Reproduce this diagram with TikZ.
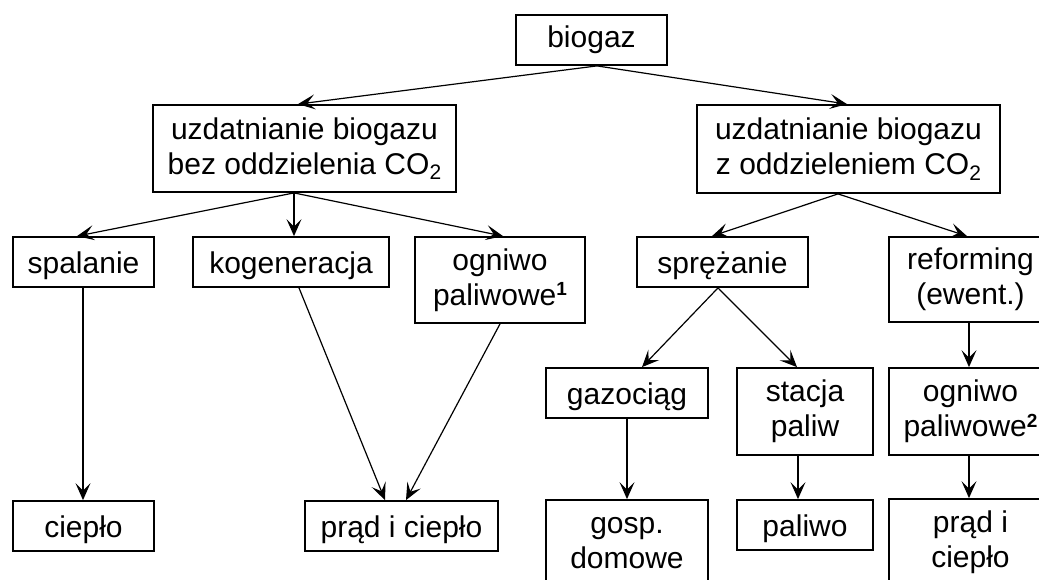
\documentclass[tikz,border=0pt]{standalone}
\usepackage{fontspec}
\setmainfont{Liberation Sans}
\usetikzlibrary{arrows.meta}
\newcommand{\cotwo}{CO\raisebox{-0.35ex}{\fontsize{21}{21}\selectfont 2}}
\newcommand{\supnum}[1]{\raisebox{0.6ex}{\fontsize{19}{19}\selectfont\bfseries #1}}
\begin{document}
\begin{tikzpicture}[x=1pt,y=-1pt,
  box/.style={draw, line width=1.8pt, inner sep=0pt, align=center,
    font=\fontsize{30}{35}\selectfont},
  oneline/.style={text height=22pt, text depth=0pt},
  arr/.style={line width=1.2pt, -{Stealth[length=17pt,width=15pt,inset=7.5pt]}}]
\useasboundingbox (0,0) rectangle (1039,579);
\clip (0,0) rectangle (1039,579);
% boxes
\node[box, minimum width=151pt, minimum height=50pt] (biogaz) at (591.5,40) {biogaz};
\node[box, minimum width=303pt, minimum height=87pt] (uzL) at (304.5,148.5) {uzdatnianie biogazu\\bez oddzielenia \cotwo};
\node[box, minimum width=303pt, minimum height=88pt] (uzR) at (848.5,149) {uzdatnianie biogazu\\z oddzieleniem \cotwo};
\node[box, oneline, minimum width=141pt, minimum height=50pt] (spal) at (83.5,262) {spalanie};
\node[box, oneline, minimum width=196pt, minimum height=50pt] (kog) at (291,262) {kogeneracja};
\node[box, minimum width=170pt, minimum height=86pt] (ogn1) at (500,280) {ogniwo\\paliwowe\supnum{1}};
\node[box, oneline, minimum width=171pt, minimum height=50pt] (spr) at (722.5,262) {sprężanie};
\node[box, minimum width=163pt, minimum height=85pt] (ref) at (970.5,279.5) {reforming\\(ewent.)};
\node[box, oneline, minimum width=162pt, minimum height=50pt] (gaz) at (627,393) {gazociąg};
\node[box, minimum width=136pt, minimum height=87pt] (stac) at (805,411.5) {stacja\\paliw};
\node[box, minimum width=163pt, minimum height=87pt] (ogn2) at (970.5,411.5) {ogniwo\\paliwowe\supnum{2}};
\node[box, oneline, minimum width=141pt, minimum height=50pt] (ciep) at (83.5,526) {ciepło};
\node[box, oneline, minimum width=193pt, minimum height=50pt] (prad) at (401.5,526) {prąd i ciepło};
\node[box, minimum width=162pt, minimum height=87pt] (gosp) at (627,543.5) {gosp.\\domowe};
\node[box, oneline, minimum width=136pt, minimum height=50pt] (pal) at (805,525) {paliwo};
\node[box, minimum width=163pt, minimum height=87pt] (pradR) at (970.5,542.5) {prąd i\\ciepło};
% connectors
\draw[arr] (biogaz.south -| 597,0) -- (uzL.north -| 298,0);
\draw[arr] (biogaz.south -| 597,0) -- (uzR.north -| 847,0);
\draw[arr] (uzL.south -| 294,0) -- (spal.north -| 77,0);
\draw[arr] (uzL.south -| 294,0) -- (kog.north -| 294,0);
\draw[arr] (uzL.south -| 294,0) -- (ogn1.north -| 503,0);
\draw[arr] (uzR.south -| 838,0) -- (spr.north -| 712,0);
\draw[arr] (uzR.south -| 838,0) -- (ref.north -| 967,0);
\draw[arr] (spal.south -| 83,0) -- (ciep.north -| 83,0);
\draw[arr] (kog.south -| 299,0) -- (prad.north -| 385,0);
\draw[arr] (ogn1.south -| 500,0) -- (prad.north -| 406,0);
\draw[arr] (spr.south -| 718,0) -- (gaz.north -| 642,0);
\draw[arr] (spr.south -| 718,0) -- (stac.north -| 797,0);
\draw[arr] (ref.south -| 969,0) -- (ogn2.north -| 969,0);
\draw[arr] (gaz.south -| 627,0) -- (gosp.north -| 627,0);
\draw[arr] (stac.south -| 798,0) -- (pal.north -| 798,0);
\draw[arr] (ogn2.south -| 969,0) -- (pradR.north -| 969,0);
\end{tikzpicture}
\end{document}
